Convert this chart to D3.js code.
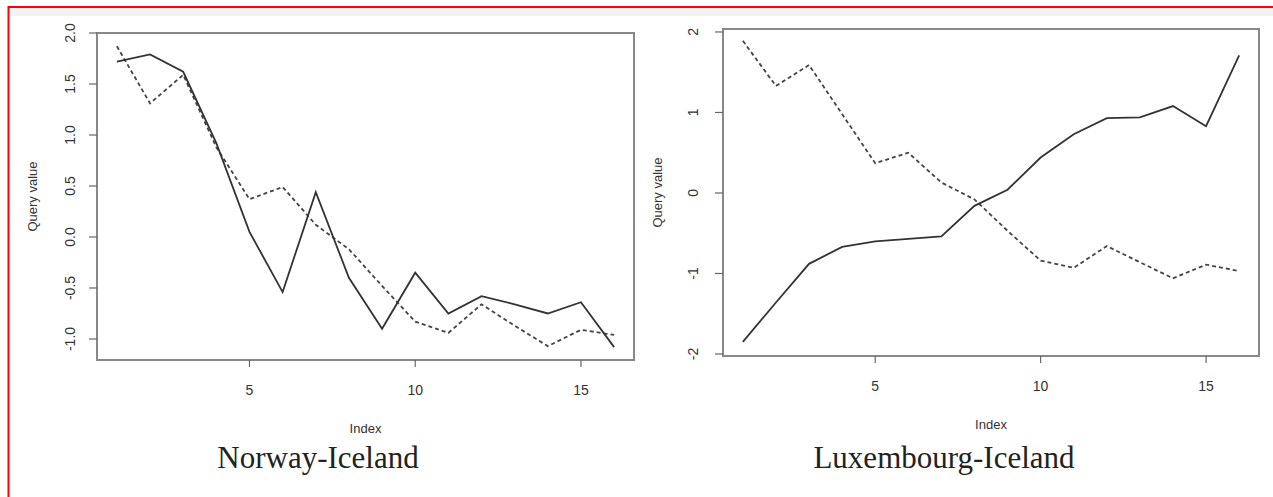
<!DOCTYPE html>
<html>
<head>
<meta charset="utf-8">
<script src="https://cdn.jsdelivr.net/npm/d3@7.9.0/dist/d3.min.js"></script>
<style>
  body { margin: 0; background: #fff; }
  svg { display: block; }
</style>
</head>
<body>
<svg id="chart" width="1273" height="497"></svg>
<script>
// index 1..16 shared by both panels
const indexValues = d3.range(1, 17);

// Norway-Iceland panel
const norwaySolid = [1.72, 1.79, 1.62, 0.92, 0.05, -0.54, 0.44, -0.40, -0.90, -0.35, -0.75, -0.58, -0.66, -0.75, -0.64, -1.08];
const norwayDashed = [1.87, 1.31, 1.59, 0.88, 0.37, 0.49, 0.12, -0.12, -0.48, -0.83, -0.94, -0.66, -0.87, -1.07, -0.91, -0.96];
const norwayYTicks = [-1.0, -0.5, 0.0, 0.5, 1.0, 1.5, 2.0];

// Luxembourg-Iceland panel
const luxSolid = [-1.85, -1.36, -0.88, -0.67, -0.60, -0.57, -0.54, -0.16, 0.04, 0.44, 0.73, 0.93, 0.94, 1.08, 0.83, 1.71];
const luxDashed = [1.89, 1.33, 1.59, 0.98, 0.37, 0.50, 0.13, -0.08, -0.47, -0.84, -0.93, -0.66, -0.86, -1.06, -0.89, -0.97];
const luxYTicks = [-2, -1, 0, 1, 2];

const xTicks = [5, 10, 15];
const titles = ["Norway-Iceland", "Luxembourg-Iceland"];

const svg = d3.select("#chart");

// page frame: light strip and red border
svg.append("rect").attr("x", 8).attr("y", 8).attr("width", 1265).attr("height", 8).attr("fill", "#f2f2f2");
svg.append("line").attr("x1", 8).attr("x2", 1273).attr("y1", 7).attr("y2", 7)
   .attr("stroke", "#f00").attr("stroke-width", 2);
svg.append("line").attr("x1", 8.5).attr("x2", 8.5).attr("y1", 6).attr("y2", 497)
   .attr("stroke", "#f00").attr("stroke-width", 2);

// panel layout
const panels = [
  { box: [97, 33, 634, 360], yDomain: [-1.206, 2.0], solid: norwaySolid, dashed: norwayDashed,
    yTicks: norwayYTicks, fmt: d => d.toFixed(1), yLabelX: 70, yTitleX: 32, titleX: 318, title: titles[0] },
  { box: [723, 29, 1259, 356], yDomain: [-2.025, 2.037], solid: luxSolid, dashed: luxDashed,
    yTicks: luxYTicks, fmt: d => String(d), yLabelX: 693, yTitleX: 657, titleX: 944, title: titles[1] }
];

const sans = "Liberation Sans, Arial, sans-serif";

panels.forEach(p => {
  const [x0, y0, x1, y1] = p.box;
  const x = d3.scaleLinear().domain([0.4, 16.6]).range([x0, x1]);
  const y = d3.scaleLinear().domain(p.yDomain).range([y1, y0]);
  const g = svg.append("g");

  // lines
  const line = d3.line().x((d, i) => x(indexValues[i])).y(d => y(d));
  g.append("path").datum(p.dashed).attr("d", line)
    .attr("fill", "none").attr("stroke", "#444").attr("stroke-width", 1.8)
    .attr("stroke-dasharray", "4,3");
  g.append("path").datum(p.solid).attr("d", line)
    .attr("fill", "none").attr("stroke", "#333").attr("stroke-width", 1.8);

  // box
  g.append("rect").attr("x", x0).attr("y", y0).attr("width", x1 - x0).attr("height", y1 - y0)
    .attr("fill", "none").attr("stroke", "#888").attr("stroke-width", 2);

  // x axis ticks
  const xa = g.append("g").attr("font-family", sans).attr("font-size", 14).attr("fill", "#333");
  xTicks.forEach(t => {
    xa.append("line").attr("x1", x(t)).attr("x2", x(t)).attr("y1", y1).attr("y2", y1 + 7)
      .attr("stroke", "#666").attr("stroke-width", 1.2);
    xa.append("text").attr("x", x(t)).attr("y", y1 + 35).attr("text-anchor", "middle").text(t);
  });

  // y axis ticks (rotated labels like R)
  const ya = g.append("g").attr("font-family", sans).attr("font-size", 14).attr("fill", "#333");
  p.yTicks.forEach(t => {
    ya.append("line").attr("x1", x0 - 8).attr("x2", x0).attr("y1", y(t)).attr("y2", y(t))
      .attr("stroke", "#666").attr("stroke-width", 1.2);
    ya.append("text").attr("transform", `translate(${p.yLabelX + 5},${y(t)}) rotate(-90)`)
      .attr("text-anchor", "middle").text(p.fmt(t));
  });

  // axis titles
  g.append("text").attr("transform", `translate(${p.yTitleX + 5},${(y0 + y1) / 2}) rotate(-90)`)
    .attr("text-anchor", "middle").attr("font-family", sans).attr("font-size", 13).attr("fill", "#333")
    .text("Query value");
  g.append("text").attr("x", (x0 + x1) / 2).attr("y", y1 + 73).attr("text-anchor", "middle")
    .attr("font-family", sans).attr("font-size", 13).attr("fill", "#333").text("Index");

  // panel title
  g.append("text").attr("x", p.titleX).attr("y", 468).attr("text-anchor", "middle")
    .attr("font-family", "Liberation Serif, serif").attr("font-size", 31).attr("fill", "#222")
    .text(p.title);
});
</script>
</body>
</html>
